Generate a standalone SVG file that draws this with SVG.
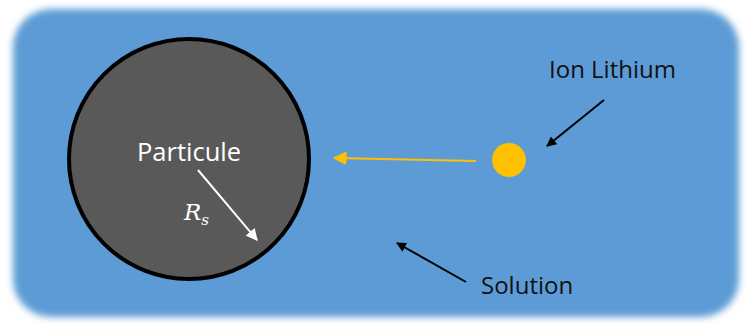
<svg xmlns="http://www.w3.org/2000/svg" width="746" height="324" viewBox="0 0 746 324">
<defs>
<filter id="soft" x="-5%" y="-5%" width="110%" height="110%"><feGaussianBlur stdDeviation="3.5"/></filter>
<marker id="ab" viewBox="0 0 10 10" refX="9" refY="5" markerWidth="5" markerHeight="5" orient="auto" markerUnits="strokeWidth"><path d="M0,0 L10,5 L0,10 z" fill="#000"/></marker>
<marker id="aw" viewBox="0 0 10 10" refX="9" refY="5" markerWidth="6" markerHeight="6" orient="auto" markerUnits="strokeWidth"><path d="M0,0 L10,5 L0,10 z" fill="#fff"/></marker>
<marker id="ay" viewBox="0 0 10 10" refX="9" refY="5" markerWidth="7" markerHeight="7" orient="auto" markerUnits="strokeWidth"><path d="M0,0 L10,5 L0,10 z" fill="#FFC000"/></marker>
</defs>
<style>
.lbl{font-family:"Open Sans","Liberation Sans",sans-serif;font-size:24px;fill:#111}
</style>
<rect width="746" height="324" fill="#fff"/>
<g id="solution">
<rect x="13" y="9" width="726" height="308" rx="38" fill="#5B9BD5" filter="url(#soft)"/>
<text class="lbl" x="481" y="294">Solution</text>
</g>
<g id="particule">
<circle cx="189" cy="159" r="120" fill="#595959" stroke="#000" stroke-width="4"/>
<text x="137" y="161" font-family="'Open Sans','Liberation Sans',sans-serif" font-size="25.5" fill="#fff">Particule</text>
<text x="184" y="220" font-family="'DejaVu Serif','Liberation Serif',serif" font-style="italic" font-size="23" fill="#fff">R<tspan font-size="15" dy="5">s</tspan></text>
</g>
<g id="ion">
<circle cx="509" cy="160" r="17" fill="#FFC000"/>
<text class="lbl" x="549" y="78">Ion Lithium</text>
</g>
<g id="connectors">
<line x1="198" y1="170" x2="257" y2="240" stroke="#fff" stroke-width="2" marker-end="url(#aw)"/>
<line x1="476" y1="161" x2="334" y2="158" stroke="#FFC000" stroke-width="2" marker-end="url(#ay)"/>
<line x1="604" y1="100" x2="547" y2="146" stroke="#000" stroke-width="2" marker-end="url(#ab)"/>
<line x1="466" y1="282" x2="397" y2="243" stroke="#000" stroke-width="2" marker-end="url(#ab)"/>
</g>
</svg>
